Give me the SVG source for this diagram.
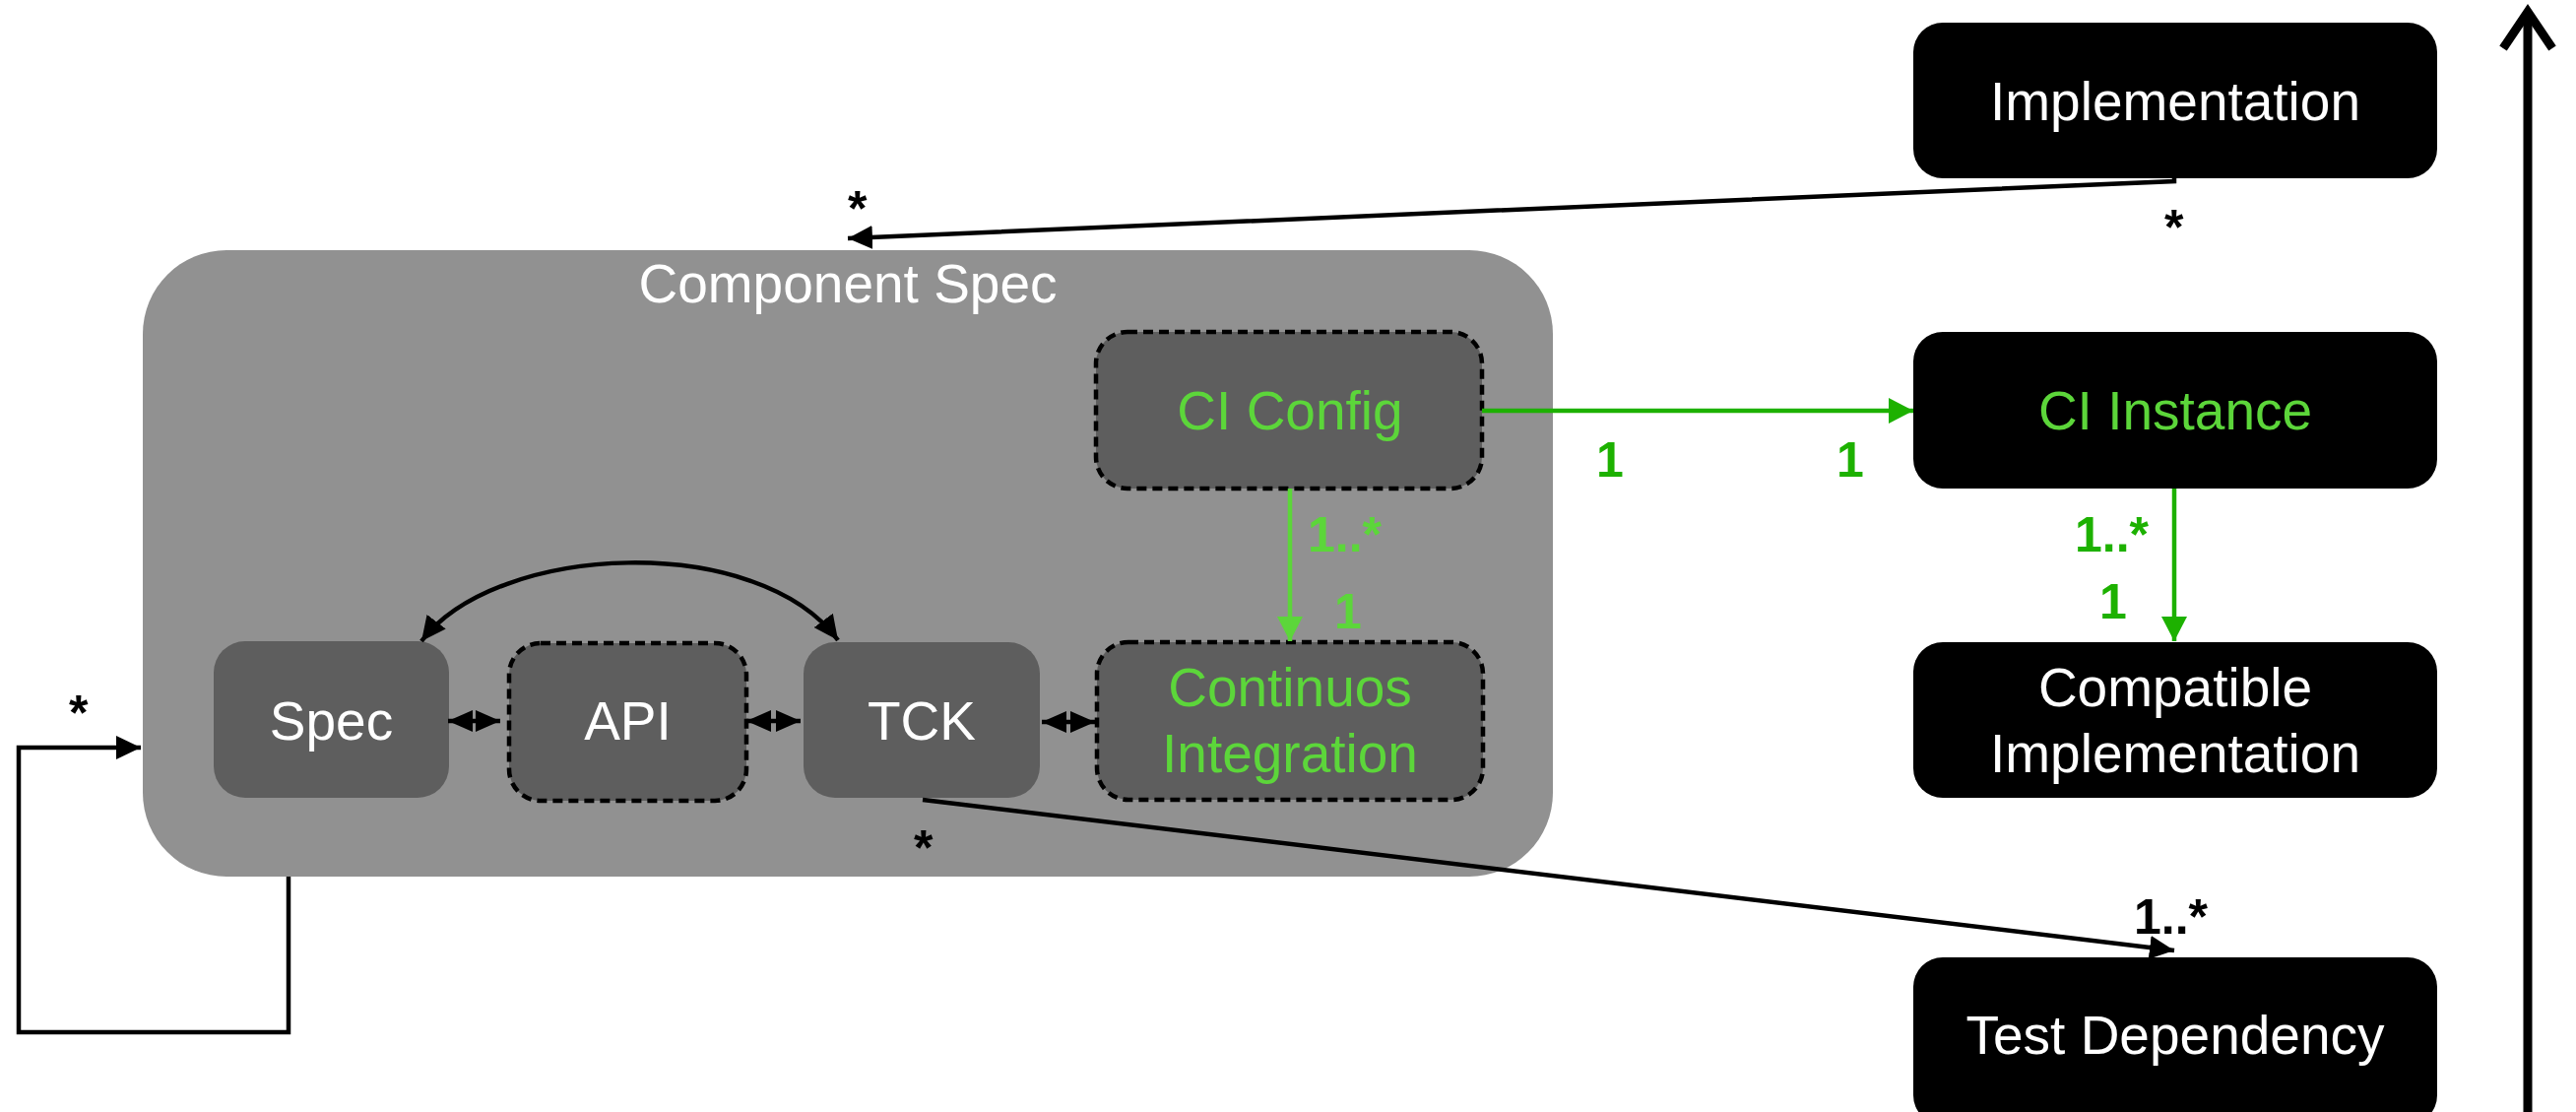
<svg xmlns="http://www.w3.org/2000/svg" width="2616" height="1129" viewBox="0 0 2616 1129">
<style>
.t{font-family:"Liberation Sans",Arial,Helvetica,sans-serif;font-size:55px;text-anchor:middle}
.w{fill:#ffffff}
.g{fill:#5CD63A}
.lbl{font-family:"Liberation Sans",Arial,Helvetica,sans-serif;font-size:50px;font-weight:bold}
.blk{fill:#000}
.dg{fill:#1DB100}
.lg{fill:#5CD63A}
.inner{fill:#5E5E5E}
.dash{fill:#5E5E5E;stroke:#000;stroke-width:4.5;stroke-dasharray:10 6}
.dark{fill:#000}
.ln{fill:none;stroke:#000;stroke-width:4.5}
.lnG{fill:none;stroke:#1DB100;stroke-width:4.5}
.lnL{fill:none;stroke:#5CD63A;stroke-width:4.5}
</style>
<defs>
<marker id="ah" markerUnits="userSpaceOnUse" viewBox="0 0 25 24" refX="25" refY="12" markerWidth="25" markerHeight="24" orient="auto-start-reverse"><path d="M0,0 L25,12 L0,24 z" fill="#000"/></marker>
<marker id="ahG" markerUnits="userSpaceOnUse" viewBox="0 0 25 26" refX="25" refY="13" markerWidth="25" markerHeight="26" orient="auto"><path d="M0,0 L25,13 L0,26 z" fill="#1DB100"/></marker>
<marker id="ahL" markerUnits="userSpaceOnUse" viewBox="0 0 25 26" refX="25" refY="13" markerWidth="25" markerHeight="26" orient="auto"><path d="M0,0 L25,13 L0,26 z" fill="#5CD63A"/></marker>
<marker id="ahS" markerUnits="userSpaceOnUse" viewBox="0 0 25 22" refX="25" refY="11" markerWidth="25" markerHeight="22" orient="auto-start-reverse"><path d="M0,0 L25,11 L0,22 z" fill="#000"/></marker>
</defs>

<g id="component-spec">
<rect x="145" y="254" width="1432" height="636" rx="85" ry="85" fill="#919191"/>
<text class="t w" x="861" y="307">Component Spec</text>
</g>

<g id="spec">
<rect class="inner" x="217" y="651" width="239" height="159" rx="32" ry="32"/>
<text class="t w" x="336.5" y="751">Spec</text>
</g>

<g id="api">
<rect class="dash" x="517" y="653" width="241" height="160" rx="32" ry="32"/>
<text class="t w" x="637.5" y="751">API</text>
</g>

<g id="tck">
<rect class="inner" x="816" y="652" width="240" height="158" rx="32" ry="32"/>
<text class="t w" x="936" y="751">TCK</text>
</g>

<g id="ci-config">
<rect class="dash" x="1113" y="337" width="392" height="159" rx="32" ry="32"/>
<text class="t g" x="1310" y="436">CI Config</text>
</g>

<g id="continuos-integration">
<rect class="dash" x="1114" y="652" width="392" height="160" rx="32" ry="32"/>
<text class="t g" x="1310" y="717">Continuos</text>
<text class="t g" x="1310" y="784">Integration</text>
</g>

<g id="implementation">
<rect class="dark" x="1943" y="23" width="532" height="158" rx="30" ry="30"/>
<text class="t w" x="2209" y="122">Implementation</text>
</g>

<g id="ci-instance">
<rect class="dark" x="1943" y="337" width="532" height="159" rx="30" ry="30"/>
<text class="t g" x="2209" y="436">CI Instance</text>
</g>

<g id="compatible-implementation">
<rect class="dark" x="1943" y="652" width="532" height="158" rx="30" ry="30"/>
<text class="t w" x="2209" y="717">Compatible</text>
<text class="t w" x="2209" y="784">Implementation</text>
</g>

<g id="test-dependency">
<rect class="dark" x="1943" y="972" width="532" height="170" rx="30" ry="30"/>
<text class="t w" x="2209" y="1070">Test Dependency</text>
</g>

<g id="connectors">
<path class="ln" d="M2208,181 L2208,184 L861,242" marker-end="url(#ah)"/>
<path class="ln" d="M293,890 V1048 H19 V759 H143" marker-end="url(#ah)"/>
<path class="lnG" d="M1505,417 H1943" marker-end="url(#ahG)"/>
<path class="lnL" d="M1310,496 V651" marker-end="url(#ahL)"/>
<path class="lnG" d="M2208,496 V651" marker-end="url(#ahG)"/>
<path class="ln" d="M937,812 L2208,965" marker-end="url(#ah)"/>
<path class="ln" d="M428,651 C505,550 770,540 851,650" marker-start="url(#ah)" marker-end="url(#ah)"/>
<path class="ln" d="M455,732 H508" marker-start="url(#ahS)" marker-end="url(#ahS)"/>
<path class="ln" d="M758,732 H813" marker-start="url(#ahS)" marker-end="url(#ahS)"/>
<path class="ln" d="M1058,733 H1112" marker-start="url(#ahS)" marker-end="url(#ahS)"/>
<path fill="none" stroke="#000" stroke-width="9" d="M2567,1129 V14"/>
<path fill="none" stroke="#000" stroke-width="9" d="M2542,49 L2567,12 L2592,49"/>
</g>

<g id="labels">
<text class="lbl blk" x="861" y="229">*</text>
<text class="lbl blk" x="2198" y="248">*</text>
<text class="lbl blk" x="70" y="741">*</text>
<text class="lbl blk" x="928" y="878">*</text>
<text class="lbl lg" x="1328" y="560">1..*</text>
<text class="lbl lg" x="1355" y="638">1</text>
<text class="lbl dg" x="1621" y="484">1</text>
<text class="lbl dg" x="1865" y="484">1</text>
<text class="lbl dg" x="2107" y="560">1..*</text>
<text class="lbl dg" x="2132" y="628">1</text>
<text class="lbl blk" x="2167" y="948">1..*</text>
</g>
</svg>
